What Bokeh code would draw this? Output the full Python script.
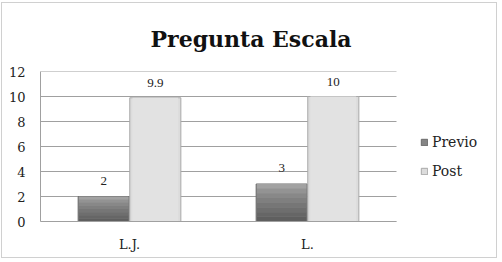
from bokeh.plotting import figure
from bokeh.models import ColumnDataSource, Legend, LegendItem, LabelSet, Title, FixedTicker
from bokeh.embed import file_html
from bokeh.resources import INLINE

categories = ["L.J.", "L."]
previo = [2, 3]
post = [9.9, 10]
previo_labels = ["2", "3"]
post_labels = ["9.9", "10"]
title_text = "Pregunta Escala"
y_ticks = [0, 2, 4, 6, 8, 10, 12]

FONT = "DejaVu Serif"
n = len(categories)
idx = list(range(n))
off = 0.145
w = 0.287

src = ColumnDataSource(dict(i=idx, xp=[i - off for i in idx], xq=[i + off for i in idx],
                            previo=previo, post=post, pl=previo_labels, ql=post_labels))

p = figure(x_range=(-0.5, -0.5 + 454 / 178), y_range=(0, 12),
           width=496, height=256, output_backend="svg", toolbar_location=None,
           min_border_left=38, min_border_right=4, min_border_top=68, min_border_bottom=38)
p.styles = {"border": "1px solid #d0d0d0", "margin-top": "2px", "margin-left": "1px"}
p.outline_line_color = None
p.background_fill_color = "white"
p.border_fill_color = "white"

# horizontal gridlines across the category area only
p.segment(x0=[-0.5] * len(y_ticks), x1=[n - 0.5] * len(y_ticks), y0=y_ticks, y1=y_ticks,
          line_color="#a0a0a0", line_width=1)

r1 = p.vbar(x="xp", top="previo", width=w, source=src,
            fill_color="#858585", line_color="#6a6a6a", line_width=1)
# vertical shading of the Previo bars (dark bottom to light top)
k = 8
shades = ["#5f5f5f", "#666666", "#6e6e6e", "#767676", "#7f7f7f", "#888888", "#939393", "#a2a2a2"]
bx, bb, bt, bc = [], [], [], []
for i, v in zip(idx, previo):
    for j in range(k):
        bx.append(i - off)
        bb.append(v * j / k)
        bt.append(v * (j + 1) / k)
        bc.append(shades[j])
p.vbar(x=bx, bottom=bb, top=bt, width=w - 0.008, fill_color=bc, line_color=None)

r2 = p.vbar(x="xq", top="post", width=w, source=src,
            fill_color="#dcdcdc", line_color="#a8a8a8", line_width=1)
p.vbar(x="xq", top="post", width=w - 0.03, source=src,
       fill_color="#e2e2e2", line_color=None)

p.add_layout(LabelSet(x="xp", y="previo", text="pl", source=src,
                      text_align="center", text_baseline="bottom", y_offset=12,
                      text_font=FONT, text_font_size="13px", text_color="#222222"))
p.add_layout(LabelSet(x="xq", y="post", text="ql", source=src,
                      text_align="center", text_baseline="bottom", y_offset=11,
                      text_font=FONT, text_font_size="13px", text_color="#222222"))

p.xgrid.grid_line_color = None
p.ygrid.grid_line_color = None

p.yaxis.ticker = FixedTicker(ticks=y_ticks)
p.yaxis.major_tick_line_color = None
p.yaxis.minor_tick_line_color = None
p.yaxis.axis_line_color = "#a0a0a0"
p.yaxis.major_label_text_font = FONT
p.yaxis.major_label_text_font_size = "13px"
p.yaxis.major_label_text_color = "#222222"
p.yaxis.major_label_standoff = 9

p.xaxis.ticker = FixedTicker(ticks=idx)
p.xaxis.major_label_overrides = {i: c for i, c in zip(idx, categories)}
p.xaxis.bounds = (-0.5, n - 0.5)
p.xaxis.major_tick_line_color = None
p.xaxis.minor_tick_line_color = None
p.xaxis.axis_line_color = "#a0a0a0"
p.xaxis.major_label_text_font = FONT
p.xaxis.major_label_text_font_size = "13px"
p.xaxis.major_label_text_color = "#222222"
p.xaxis.major_label_standoff = 9

p.add_layout(Title(text=title_text, align="left", offset=110, standoff=40,
                   text_font=FONT, text_font_style="bold", text_font_size="22px",
                   text_color="#111111"), "above")

legend = Legend(items=[LegendItem(label="Previo", renderers=[r1]),
                       LegendItem(label="Post", renderers=[r2])],
                location=(380, 42), glyph_width=8, glyph_height=8, label_standoff=4,
                spacing=13, padding=0, margin=0, border_line_color=None,
                background_fill_alpha=0, label_text_font=FONT, label_text_font_size="14px",
                label_text_color="#222222")
p.add_layout(legend)

open("out.html", "w").write(file_html(p, INLINE))
